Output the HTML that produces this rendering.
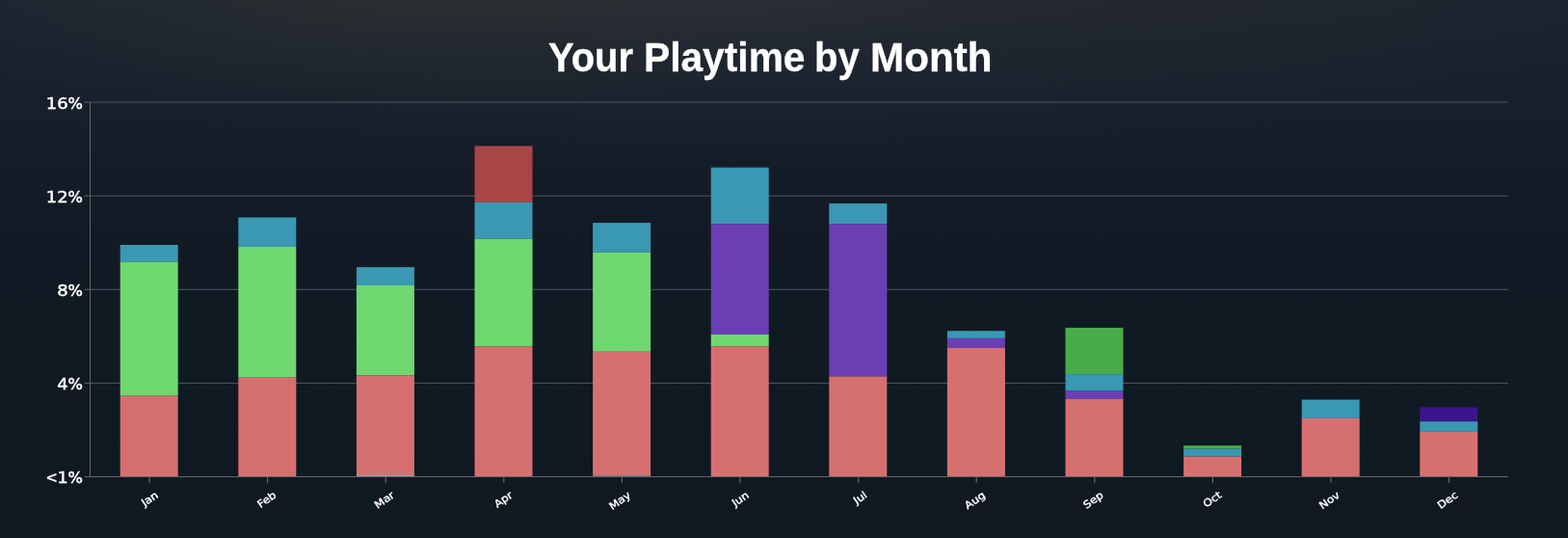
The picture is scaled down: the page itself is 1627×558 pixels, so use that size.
<!DOCTYPE html>
<html lang="en"><head><meta charset="utf-8"><title>Your Playtime by Month</title>
<style>
html,body{margin:0;padding:0;background:#101822;}
body{width:1627px;height:558px;overflow:hidden;position:relative;font-family:"Liberation Sans",sans-serif;}
#bg{position:absolute;left:0;top:0;width:1627px;height:558px;
background:
radial-gradient(ellipse 520px 140px at 27% -25px, rgba(52,50,46,0.75) 0%, rgba(48,48,46,0.3) 50%, rgba(40,42,44,0) 100%),
radial-gradient(ellipse 520px 130px at 72% -25px, rgba(42,40,40,0.6) 0%, rgba(38,38,40,0.22) 50%, rgba(36,38,42,0) 100%),
radial-gradient(ellipse 960px 195px at 47% -30px, rgba(46,50,60,0.95) 0%, rgba(38,43,53,0.45) 45%, rgba(28,36,46,0) 100%),
linear-gradient(180deg,#1a2530 0px,#17202b 100px,#131b26 200px,#101a23 320px,#0f1922 558px);}
h1{position:absolute;left:0;top:0;width:1627px;height:100px;margin:0;color:#fff;font-family:"Liberation Sans",sans-serif;font-weight:700;font-size:42px;line-height:48px;white-space:nowrap;-webkit-text-stroke:0.3px #fff;}
h1 span{position:absolute;top:36.3px;display:block;transform-origin:0 0;}
svg{position:absolute;left:0;top:0;}
.yt{font-family:"DejaVu Sans","Liberation Sans",sans-serif;font-size:16.6px;fill:#fff;stroke:#fff;stroke-width:0.45px;text-anchor:end;}
.lp{font-family:"DejaVu Sans Condensed","DejaVu Sans",sans-serif;font-stretch:condensed;}
.lt{font-family:"Liberation Sans",sans-serif;font-size:17.2px;}
.xt{font-family:"DejaVu Sans","Liberation Sans",sans-serif;font-size:10.6px;fill:#fff;stroke:#fff;stroke-width:0.35px;text-anchor:end;}
</style></head><body>
<div id="bg"></div>
<h1>
<span style="left:569.05px;transform:scaleX(0.9516)">Your</span> <span style="left:667.59px;transform:scaleX(0.9696)">Playtime</span> <span style="left:845.14px;transform:scaleX(0.9543)">by</span> <span style="left:902.88px;transform:scaleX(1.0050)">Month</span>
</h1>
<svg width="1627" height="558" viewBox="0 0 1627 558">
<line x1="93.5" y1="106.02" x2="1565.0" y2="106.02" stroke="#4e5862" stroke-width="1"/>
<line x1="93.5" y1="203.14" x2="1565.0" y2="203.14" stroke="#4e5862" stroke-width="1"/>
<line x1="93.5" y1="300.26" x2="1565.0" y2="300.26" stroke="#4e5862" stroke-width="1"/>
<line x1="93.5" y1="397.38" x2="1565.0" y2="397.38" stroke="#4e5862" stroke-width="1"/>
<rect x="124.70" y="254.0" width="60.0" height="17.50" fill="#3a98b3"/>
<rect x="124.70" y="271.5" width="60.0" height="139.10" fill="#70d870"/>
<rect x="124.70" y="410.6" width="60.0" height="83.90" fill="#d67070"/>
<rect x="247.30" y="225.5" width="60.0" height="30.50" fill="#3a98b3"/>
<rect x="247.30" y="256.0" width="60.0" height="135.20" fill="#70d870"/>
<rect x="247.30" y="391.2" width="60.0" height="103.30" fill="#d67070"/>
<rect x="369.90" y="277.1" width="60.0" height="18.90" fill="#3a98b3"/>
<rect x="369.90" y="296.0" width="60.0" height="93.50" fill="#70d870"/>
<rect x="369.90" y="389.5" width="60.0" height="103.50" fill="#d67070"/>
<rect x="369.90" y="493.0" width="60.0" height="1.50" fill="#86a6c0"/>
<rect x="492.50" y="151.4" width="60.0" height="58.50" fill="#a84646"/>
<rect x="492.50" y="209.9" width="60.0" height="37.90" fill="#3a98b3"/>
<rect x="492.50" y="247.8" width="60.0" height="111.60" fill="#70d870"/>
<rect x="492.50" y="359.4" width="60.0" height="135.10" fill="#d67070"/>
<rect x="615.10" y="231.1" width="60.0" height="30.70" fill="#3a98b3"/>
<rect x="615.10" y="261.8" width="60.0" height="103.00" fill="#70d870"/>
<rect x="615.10" y="364.8" width="60.0" height="128.60" fill="#d67070"/>
<rect x="615.10" y="493.4" width="60.0" height="1.10" fill="#86a6c0"/>
<rect x="737.70" y="173.7" width="60.0" height="58.60" fill="#3a98b3"/>
<rect x="737.70" y="232.3" width="60.0" height="114.60" fill="#6b3fb4"/>
<rect x="737.70" y="346.9" width="60.0" height="12.40" fill="#70d870"/>
<rect x="737.70" y="359.3" width="60.0" height="135.20" fill="#d67070"/>
<rect x="860.30" y="211.0" width="60.0" height="21.30" fill="#3a98b3"/>
<rect x="860.30" y="232.3" width="60.0" height="158.20" fill="#6b3fb4"/>
<rect x="860.30" y="390.5" width="60.0" height="104.00" fill="#d67070"/>
<rect x="982.90" y="343.2" width="60.0" height="7.70" fill="#3a98b3"/>
<rect x="982.90" y="350.9" width="60.0" height="10.00" fill="#6b3fb4"/>
<rect x="982.90" y="360.9" width="60.0" height="133.60" fill="#d67070"/>
<rect x="1105.50" y="339.9" width="60.0" height="48.20" fill="#48ac48"/>
<rect x="1105.50" y="388.1" width="60.0" height="17.50" fill="#3a98b3"/>
<rect x="1105.50" y="405.6" width="60.0" height="8.20" fill="#6b3fb4"/>
<rect x="1105.50" y="413.8" width="60.0" height="80.70" fill="#d67070"/>
<rect x="1228.10" y="462.1" width="60.0" height="3.50" fill="#48ac48"/>
<rect x="1228.10" y="465.6" width="60.0" height="8.00" fill="#3a98b3"/>
<rect x="1228.10" y="473.6" width="60.0" height="20.90" fill="#d67070"/>
<rect x="1350.70" y="414.5" width="60.0" height="19.40" fill="#3a98b3"/>
<rect x="1350.70" y="433.9" width="60.0" height="60.60" fill="#d67070"/>
<rect x="1473.30" y="422.4" width="60.0" height="14.80" fill="#3c148c"/>
<rect x="1473.30" y="437.2" width="60.0" height="10.70" fill="#3a98b3"/>
<rect x="1473.30" y="447.9" width="60.0" height="46.60" fill="#d67070"/>
<line x1="93.5" y1="106.02" x2="93.5" y2="494.5" stroke="#666" stroke-width="1"/>
<line x1="93.5" y1="494.5" x2="1565.0" y2="494.5" stroke="#666" stroke-width="1"/>
<line x1="87.7" y1="106.02" x2="93.5" y2="106.02" stroke="#666" stroke-width="1"/>
<text class="yt" transform="translate(86.0 112.52) scale(1.085 1)" x="0" y="0">16<tspan class="lp">%</tspan></text>
<line x1="87.7" y1="203.14" x2="93.5" y2="203.14" stroke="#666" stroke-width="1"/>
<text class="yt" transform="translate(86.0 209.64) scale(1.085 1)" x="0" y="0">12<tspan class="lp">%</tspan></text>
<line x1="87.7" y1="300.26" x2="93.5" y2="300.26" stroke="#666" stroke-width="1"/>
<text class="yt" transform="translate(86.0 306.76) scale(1.085 1)" x="0" y="0">8<tspan class="lp">%</tspan></text>
<line x1="87.7" y1="397.38" x2="93.5" y2="397.38" stroke="#666" stroke-width="1"/>
<text class="yt" transform="translate(86.0 403.88) scale(1.085 1)" x="0" y="0">4<tspan class="lp">%</tspan></text>
<line x1="87.7" y1="494.50" x2="93.5" y2="494.50" stroke="#666" stroke-width="1"/>
<text class="yt" transform="translate(86.0 501.00) scale(1.085 1)" x="0" y="0"><tspan class="lt">&lt;</tspan>1<tspan class="lp">%</tspan></text>
<line x1="155.00" y1="494.5" x2="155.00" y2="500.8" stroke="#666" stroke-width="1.25"/>
<text class="xt" x="0" y="0" transform="translate(164.90 515.1) rotate(-35) scale(1.12 1)">Jan</text>
<line x1="277.60" y1="494.5" x2="277.60" y2="500.8" stroke="#666" stroke-width="1.25"/>
<text class="xt" x="0" y="0" transform="translate(287.50 515.1) rotate(-35) scale(1.12 1)">Feb</text>
<line x1="400.20" y1="494.5" x2="400.20" y2="500.8" stroke="#666" stroke-width="1.25"/>
<text class="xt" x="0" y="0" transform="translate(410.10 515.1) rotate(-35) scale(1.12 1)">Mar</text>
<line x1="522.80" y1="494.5" x2="522.80" y2="500.8" stroke="#666" stroke-width="1.25"/>
<text class="xt" x="0" y="0" transform="translate(532.70 515.1) rotate(-35) scale(1.12 1)">Apr</text>
<line x1="645.40" y1="494.5" x2="645.40" y2="500.8" stroke="#666" stroke-width="1.25"/>
<text class="xt" x="0" y="0" transform="translate(655.30 515.1) rotate(-35) scale(1.12 1)">May</text>
<line x1="768.00" y1="494.5" x2="768.00" y2="500.8" stroke="#666" stroke-width="1.25"/>
<text class="xt" x="0" y="0" transform="translate(777.90 515.1) rotate(-35) scale(1.12 1)">Jun</text>
<line x1="890.60" y1="494.5" x2="890.60" y2="500.8" stroke="#666" stroke-width="1.25"/>
<text class="xt" x="0" y="0" transform="translate(900.50 515.1) rotate(-35) scale(1.12 1)">Jul</text>
<line x1="1013.20" y1="494.5" x2="1013.20" y2="500.8" stroke="#666" stroke-width="1.25"/>
<text class="xt" x="0" y="0" transform="translate(1023.10 515.1) rotate(-35) scale(1.12 1)">Aug</text>
<line x1="1135.80" y1="494.5" x2="1135.80" y2="500.8" stroke="#666" stroke-width="1.25"/>
<text class="xt" x="0" y="0" transform="translate(1145.70 515.1) rotate(-35) scale(1.12 1)">Sep</text>
<line x1="1258.40" y1="494.5" x2="1258.40" y2="500.8" stroke="#666" stroke-width="1.25"/>
<text class="xt" x="0" y="0" transform="translate(1268.30 515.1) rotate(-35) scale(1.12 1)">Oct</text>
<line x1="1381.00" y1="494.5" x2="1381.00" y2="500.8" stroke="#666" stroke-width="1.25"/>
<text class="xt" x="0" y="0" transform="translate(1390.90 515.1) rotate(-35) scale(1.12 1)">Nov</text>
<line x1="1503.60" y1="494.5" x2="1503.60" y2="500.8" stroke="#666" stroke-width="1.25"/>
<text class="xt" x="0" y="0" transform="translate(1513.50 515.1) rotate(-35) scale(1.12 1)">Dec</text>
</svg></body></html>
